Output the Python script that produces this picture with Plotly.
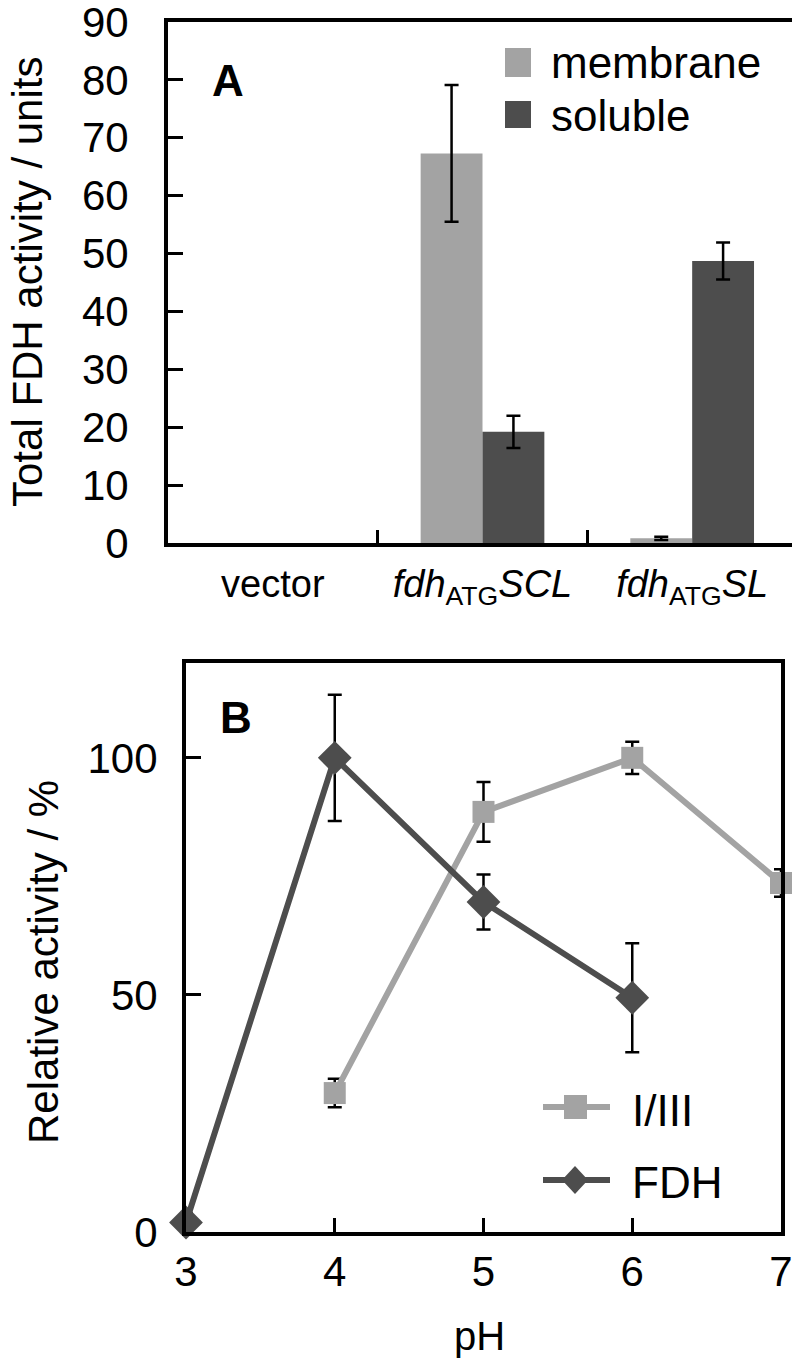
import plotly.graph_objects as go

# ---- Panel A data ----
categories = ["vector", "<i>fdh</i><sub>ATG</sub><i>SCL</i>", "<i>fdh</i><sub>ATG</sub><i>SL</i>"]
membrane = [0, 67.3, 0.8]
membrane_err = [0, 11.8, 0.3]
soluble = [0, 19.2, 48.7]
soluble_err = [0, 2.8, 3.2]

# ---- Panel B data ----
ph_i3 = [4, 5, 6, 7]
act_i3 = [29.3, 88.6, 100, 73.6]
err_i3 = [3.0, 6.3, 3.4, 2.9]
ph_fdh = [3, 4, 5, 6]
act_fdh = [2, 100, 69.6, 49.4]
err_fdh = [2.0, 13.3, 5.8, 11.5]

LIGHT = "#a3a3a3"
DARK = "#4d4d4d"
FONT = "Liberation Sans, Arial, sans-serif"
OFF = 8  # page body margin
W, H = 800 - OFF, 1361 - OFF

def px(x):
    return (x - OFF) / W

def py(y):
    return 1 - (y - OFF) / H

fig = go.Figure()

# bars (zero-valued bars/errors are not drawn, as in the reference)
for vals, errs, name, col in [(membrane, membrane_err, "membrane", LIGHT),
                              (soluble, soluble_err, "soluble", DARK)]:
    fig.add_trace(go.Bar(x=categories, y=vals, name=name,
                         marker=dict(color=col, line=dict(width=0)),
                         xaxis="x", yaxis="y", showlegend=False))
    # error bars drawn on the same offset group only where a value exists
    ex = [c for c, v in zip(categories, vals) if v > 0]
    ey = [v for v in vals if v > 0]
    ee = [e for e, v in zip(errs, vals) if v > 0]
    fig.add_trace(go.Bar(x=ex, y=ey, name=name + " err",
                         marker=dict(color="rgba(0,0,0,0)", line=dict(width=0)),
                         error_y=dict(type="data", array=ee, color="black", thickness=2.5, width=7),
                         xaxis="x", yaxis="y", showlegend=False, offsetgroup=name, hoverinfo="skip"))
    fig.data[-2].offsetgroup = name

fig.add_trace(go.Scatter(x=ph_i3, y=act_i3, name="I/III", mode="lines+markers",
                         line=dict(color=LIGHT, width=6),
                         marker=dict(symbol="square", size=22, color=LIGHT),
                         error_y=dict(type="data", array=err_i3, color="black", thickness=2.5, width=7),
                         xaxis="x2", yaxis="y2", cliponaxis=False, showlegend=False))
fig.add_trace(go.Scatter(x=ph_fdh, y=act_fdh, name="FDH", mode="lines+markers",
                         line=dict(color=DARK, width=6),
                         marker=dict(symbol="diamond", size=26, color=DARK),
                         error_y=dict(type="data", array=err_fdh, color="black", thickness=2.5, width=7),
                         xaxis="x2", yaxis="y2", cliponaxis=False, showlegend=False))

axis_common = dict(showline=True, linecolor="black", mirror=True, ticks="inside",
                   tickcolor="black", showgrid=False, zeroline=False, automargin=False,
                   ticklabeloverflow="allow", tickangle=0)

def tf(size):
    return dict(family=FONT, size=size, color="black")

fig.update_layout(
    template="none",
    width=W, height=H,
    margin=dict(l=0, r=0, t=0, b=0, pad=0),
    paper_bgcolor="white", plot_bgcolor="white",
    barmode="group", bargap=0.41, bargroupgap=0,
    font=dict(family=FONT, color="black"),
    xaxis=dict(domain=[px(168), px(797)], anchor="y", tickson="boundaries",
               categoryorder="array", categoryarray=categories,
               ticklen=13, tickwidth=3, linewidth=4, ticklabelstandoff=4,
               tickfont=tf(38), **axis_common),
    yaxis=dict(domain=[py(543), py(22)], anchor="x", range=[0, 90], dtick=10,
               ticklen=15, tickwidth=3, linewidth=4, ticklabelstandoff=27,
               tickfont=tf(42), **axis_common),
    xaxis2=dict(domain=[px(186), px(781)], anchor="y2", range=[3, 7], dtick=1,
                ticklen=14, tickwidth=3, linewidth=4, ticklabelstandoff=0,
                tickfont=tf(42), **axis_common),
    yaxis2=dict(domain=[py(1232), py(663)], anchor="x2", range=[0, 120],
                tickvals=[0, 50, 100], ticklen=15, tickwidth=3, linewidth=4,
                ticklabelstandoff=16, tickfont=tf(42), **axis_common),
)

annotations = [
    dict(text="Total FDH activity / units", x=px(27), y=py(282), textangle=-90),
    dict(text="Relative activity / %", x=px(43), y=py(962), textangle=-90),
    dict(text="pH", x=px(480), y=py(1336), size=40),
    dict(text="<b>A</b>", x=px(228), y=py(80), size=44),
    dict(text="<b>B</b>", x=px(236), y=py(717), size=44),
    dict(text="membrane", x=px(549), y=py(62), xanchor="left", size=44),
    dict(text="soluble", x=px(549), y=py(115), xanchor="left", size=44),
    dict(text="I/III", x=px(630), y=py(1110), xanchor="left", size=44),
    dict(text="FDH", x=px(630), y=py(1182), xanchor="left", size=44),
]
for a in annotations:
    size = a.pop("size", 42)
    fig.add_annotation(xref="paper", yref="paper", showarrow=False,
                       xanchor=a.pop("xanchor", "center"), yanchor="middle",
                       font=dict(family=FONT, size=size, color="black"), **a)

# legend swatches (paper coordinates)
shapes = [
    dict(type="rect", x0=px(505), x1=px(531), y0=py(77), y1=py(48), fillcolor=LIGHT, line_width=0),
    dict(type="rect", x0=px(505), x1=px(531), y0=py(128), y1=py(101), fillcolor=DARK, line_width=0),
    dict(type="line", x0=px(543), x1=px(610), y0=py(1107), y1=py(1107), line=dict(color=LIGHT, width=6)),
    dict(type="rect", x0=px(564), x1=px(587), y0=py(1119), y1=py(1095), fillcolor=LIGHT, line_width=0),
    dict(type="line", x0=px(543), x1=px(610), y0=py(1180), y1=py(1180), line=dict(color=DARK, width=6)),
    dict(type="path", path=f"M {px(575)},{py(1166)} L {px(588)},{py(1180)} L {px(575)},{py(1194)} L {px(562)},{py(1180)} Z",
         fillcolor=DARK, line_width=0),
]
for s in shapes:
    fig.add_shape(xref="paper", yref="paper", **s)

fig.write_html("out.html")
